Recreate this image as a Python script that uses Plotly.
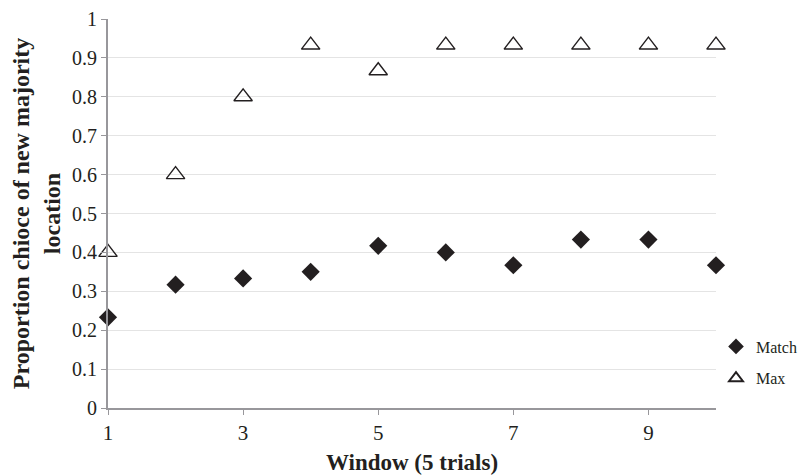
import plotly.graph_objects as go

windows = [1, 2, 3, 4, 5, 6, 7, 8, 9, 10]
match_vals = [0.233, 0.317, 0.333, 0.35, 0.417, 0.40, 0.367, 0.433, 0.433, 0.367]
max_vals = [0.40, 0.60, 0.80, 0.933, 0.867, 0.933, 0.933, 0.933, 0.933, 0.933]
x_ticks = [1, 3, 5, 7, 9]
y_ticks = [0, 0.1, 0.2, 0.3, 0.4, 0.5, 0.6, 0.7, 0.8, 0.9, 1]
y_tick_text = ["0", "0.1", "0.2", "0.3", "0.4", "0.5", "0.6", "0.7", "0.8", "0.9", "1"]

FONT = "Liberation Serif"
INK = "#231f20"

fig = go.Figure()
fig.add_trace(go.Scatter(
    x=windows, y=match_vals, mode="markers", name="Match", legendgroup="a",
    marker=dict(symbol="diamond", size=14, color=INK, line=dict(width=0)),
    cliponaxis=False,
))
fig.add_trace(go.Scatter(
    x=windows, y=max_vals, mode="markers", name="Max", legendgroup="b",
    marker=dict(symbol="triangle-up-open", size=16, color=INK,
                line=dict(width=1.4, color=INK)),
    cliponaxis=False,
))

# page body has an 8px margin, so the figure is sized to fill the rest
fig.update_layout(
    width=802, height=467,
    margin=dict(l=100, r=94, t=11, b=67, autoexpand=False),
    paper_bgcolor="white", plot_bgcolor="white",
    font=dict(family=FONT, color=INK),
    showlegend=True,
    legend=dict(x=1.0, y=0.117, xanchor="left", yanchor="middle",
                font=dict(family=FONT, size=16, color=INK),
                tracegroupgap=8, itemsizing="constant", itemwidth=30,
                bgcolor="rgba(0,0,0,0)"),
    xaxis=dict(
        range=[1, 10], tickvals=x_ticks, ticktext=[str(v) for v in x_ticks],
        showgrid=False, zeroline=False, automargin=False,
        showline=True, linecolor="#98979b", linewidth=2,
        ticks="outside", ticklen=5, tickcolor="#98979b", tickwidth=1,
        tickfont=dict(family=FONT, size=21, color=INK),
        title=dict(text="<b>Window (5 trials)</b>",
                   font=dict(family=FONT, size=23, color=INK)),
    ),
    yaxis=dict(
        range=[0, 1], tickvals=y_ticks, ticktext=y_tick_text,
        showgrid=True, gridcolor="#e4e4e4", gridwidth=1.2, zeroline=False,
        automargin=False, ticklabeloverflow="allow",
        showline=True, linecolor="#98979b", linewidth=2,
        ticks="outside", ticklen=5, tickcolor="#98979b", tickwidth=1,
        tickfont=dict(family=FONT, size=20, color=INK),
        title=dict(text="<b>Proportion chioce of new majority<br>location</b>",
                   font=dict(family=FONT, size=24, color=INK)),
    ),
)

fig.write_html("out.html")
